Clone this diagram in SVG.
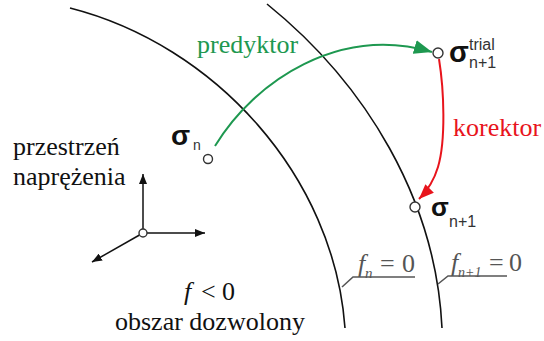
<svg xmlns="http://www.w3.org/2000/svg" width="544" height="341" viewBox="0 0 544 341">
  <style>
    .curve { fill: none; stroke: #111; stroke-width: 1.6; }
    .axis { fill: none; stroke: #111; stroke-width: 1.5; }
    .leader { fill: none; stroke: #555; stroke-width: 1.6; }
    .pt { fill: #fff; stroke: #333; stroke-width: 1.4; }
    .serif { font-family: "Liberation Serif", "Times New Roman", serif; }
    .sig { font-family: "Liberation Sans", Arial, sans-serif; font-weight: bold; fill: #111; }
    .idx { font-family: "Liberation Sans", Arial, sans-serif; fill: #333; }
    .lab { font-family: "Liberation Serif", "Times New Roman", serif; fill: #555; font-size: 26px; }
  </style>
  <defs>
    <marker id="ahBlack" markerUnits="userSpaceOnUse" markerWidth="10" markerHeight="8" viewBox="0 0 10 8" refX="10" refY="4" orient="auto">
      <path d="M0,0 L10,4 L0,8 z" fill="#111"/>
    </marker>
    <marker id="ahGreen" markerUnits="userSpaceOnUse" markerWidth="18" markerHeight="14" viewBox="0 0 18 14" refX="18" refY="7" orient="auto">
      <path d="M0,0 L18,7 L0,14 z" fill="#1e9850"/>
    </marker>
    <marker id="ahRed" markerUnits="userSpaceOnUse" markerWidth="15" markerHeight="12" viewBox="0 0 15 12" refX="15" refY="6" orient="auto">
      <path d="M0,0 L15,6 L0,12 z" fill="#e8141c"/>
    </marker>
  </defs>

  <g id="surface-fn">
    <path class="curve" d="M70,8 C215,45 334,176 345,328"/>
    <path class="leader" d="M342,287 L353,277 L415,277"/>
    <text class="lab" y="272"><tspan x="358" font-style="italic">f</tspan><tspan x="365" y="278" font-size="15" font-style="italic">n</tspan><tspan x="380" y="272">=</tspan><tspan x="402" y="272">0</tspan></text>
  </g>

  <g id="surface-fn1">
    <path class="curve" d="M267,4 C366,84 436,200 442,328"/>
    <path class="leader" d="M438,284 L448,276 L507,276"/>
    <text class="lab" y="271"><tspan x="451" font-style="italic">f</tspan><tspan x="458" y="277" font-size="14" font-style="italic">n+1</tspan><tspan x="489" y="271">=</tspan><tspan x="509" y="271">0</tspan></text>
  </g>

  <g id="connectors">
    <path id="predyktor-arrow" d="M215,146 C255,80 340,25 432,52" fill="none" stroke="#1e9850" stroke-width="2" marker-end="url(#ahGreen)"/>
    <path id="korektor-arrow" d="M439,59 C444,90 446,140 438,167 C435,177 428,190 419,199" fill="none" stroke="#e8141c" stroke-width="2" marker-end="url(#ahRed)"/>
    <path class="axis" d="M143,229 L143,174" marker-end="url(#ahBlack)"/>
    <path class="axis" d="M147,233 L205,233" marker-end="url(#ahBlack)"/>
    <path class="axis" d="M139.5,235 L92,262" marker-end="url(#ahBlack)"/>
  </g>

  <g id="label-predyktor">
    <text class="serif" x="197" y="53" font-size="26" fill="#1e9850">predyktor</text>
  </g>
  <g id="label-korektor">
    <text class="serif" x="453" y="136" font-size="26" fill="#e8141c">korektor</text>
  </g>

  <g id="node-sigma-n">
    <circle class="pt" cx="208" cy="159" r="4.5"/>
    <text x="171" y="145"><tspan class="sig" font-size="28">σ</tspan><tspan class="idx" x="193" y="150" font-size="14">n</tspan></text>
  </g>

  <g id="node-sigma-trial">
    <circle class="pt" cx="438" cy="53" r="5"/>
    <text x="449" y="62"><tspan class="sig" font-size="29">σ</tspan><tspan class="idx" x="469" y="50" font-size="16">trial</tspan><tspan class="idx" x="469" y="68" font-size="16">n+1</tspan></text>
  </g>

  <g id="node-sigma-n1">
    <circle class="pt" cx="415" cy="207" r="5"/>
    <text x="431" y="216"><tspan class="sig" font-size="26">σ</tspan><tspan class="idx" x="449" y="227" font-size="16">n+1</tspan></text>
  </g>

  <g id="node-origin">
    <circle class="pt" cx="143" cy="233" r="4"/>
  </g>

  <g id="label-space">
    <text class="serif" x="13" y="155" font-size="26" fill="#111">przestrzeń</text>
    <text class="serif" x="13" y="185" font-size="26" fill="#111">naprężenia</text>
  </g>

  <g id="label-region">
    <text class="serif" y="300" font-size="26" fill="#111"><tspan x="184" font-style="italic">f</tspan><tspan x="201">&lt;</tspan><tspan x="222">0</tspan></text>
    <text class="serif" x="115" y="330" font-size="26" fill="#111">obszar dozwolony</text>
  </g>
</svg>
